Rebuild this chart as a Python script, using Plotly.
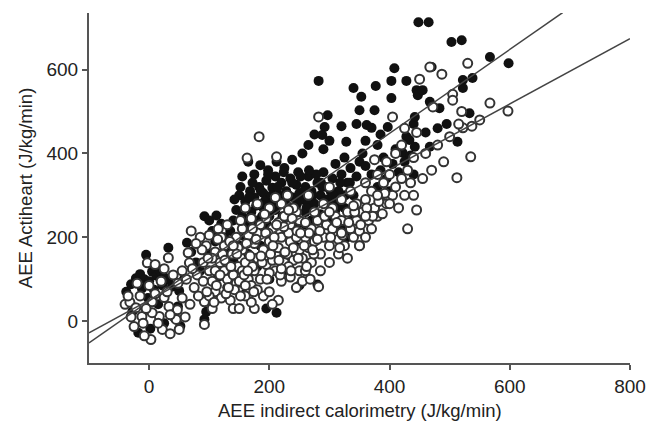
import plotly.graph_objects as go

# Filled circles (group 1)
filled_x = [-38,-30,-22,-15,-8,0,5,12,18,25,32,-5,32,-28,-12,8,38,50,48,52,2,-18,25,42,15,-2,58,22,
            63,70,92,100,112,120,105,125,135,140,128,110,95,92,130,158,115,140,85,100,78,
            150,160,168,175,183,190,195,200,205,210,215,220,228,235,240,245,250,170,180,190,200,210,220,230,240,245,155,162,175,185,198,212,225,238,248,160,175,195,210,230,150,165,185,205,225,240,212,195,200,230,250,180,155,165,
            255,260,265,270,275,280,285,290,295,300,305,310,315,320,325,330,335,340,345,350,260,270,285,300,310,325,340,255,265,275,290,300,282,297,292,288,320,328,340,353,350,345,260,280,300,320,280,250,330,
            355,360,362,370,375,377,380,385,390,397,403,403,408,410,417,422,428,433,428,440,442,442,445,447,455,448,360,370,385,395,405,415,425,435,380,400,440,
            465,503,520,467,470,483,522,538,522,533,513,467,567,598,480,495,460,
            145,152,158,166,172,178,186,192,198,204,214,218,224,232,238,244,252,258,264,272,278,288,294,302,312,318,326,334,142,188,206,226,246,266,286,306,170,196,222,262]
filled_y = [70,88,102,112,100,95,118,108,120,105,98,158,175,22,78,75,82,72,35,-12,-18,-28,-5,8,40,55,100,85,
            187,165,250,240,252,232,215,200,215,240,175,190,22,4,80,63,105,145,120,160,140,
            300,285,310,295,320,305,335,290,318,345,300,330,310,340,295,325,305,260,240,270,250,265,240,275,255,225,250,230,350,372,360,380,365,385,355,200,215,215,200,210,180,160,180,170,160,185,20,30,100,120,85,130,345,380,
            290,320,345,310,280,330,300,355,320,290,340,375,310,350,390,330,365,300,345,380,260,240,255,240,265,270,250,400,420,445,410,430,573,491,463,444,465,428,556,535,503,470,230,210,200,220,87,175,200,
            400,430,468,461,503,561,420,445,390,463,532,573,603,410,413,401,440,432,573,470,416,487,551,539,551,713,370,350,360,340,375,355,380,395,320,310,350,
            713,666,670,523,606,508,575,580,556,496,428,416,630,615,460,470,450,
            265,320,240,295,330,275,310,285,350,300,320,280,355,300,330,270,345,310,280,300,350,320,290,310,280,330,300,330,290,250,280,290,280,360,330,300,200,230,250,270]

# Open circles (group 2)
open_x = [-40,-32,-22,-25,3,22,50,45,47,33,17,5,-12,5,25,-3,32,65,67,-35,-15,10,30,-5,15,35,-10,55,0,20,40,-20,10,55,-30,60,35,-8,25,48,
          92,92,75,80,90,100,105,110,120,135,140,150,95,110,118,125,130,140,145,148,100,115,125,138,105,85,70,130,145,
          155,160,165,170,175,180,185,190,195,200,205,210,215,220,225,230,235,240,245,250,155,165,175,185,195,205,215,225,235,245,155,170,160,180,200,220,240,190,200,215,175,170,205,220,235,245,250,160,180,210,230,150,168,198,232,183,163,212,282,
          255,260,265,270,275,280,285,290,295,300,305,310,315,320,325,330,335,340,345,350,260,270,285,300,315,330,255,268,282,275,290,305,320,335,345,265,250,300,317,350,
          355,360,365,370,375,380,385,390,395,400,405,410,415,420,425,430,435,440,445,430,388,350,360,370,380,395,405,410,420,440,450,445,425,360,375,
          467,487,530,505,505,567,597,537,522,535,512,472,460,480,500,490,470,455,520,550,515,
          105,112,122,128,134,142,148,158,162,172,178,188,194,202,208,218,224,232,238,248,258,266,274,284,292,302,312,322,332,342,352,362,372,382,392,120,140,160,180,200,220,240,260,280,300,320,340,360,380,400,90,100,110,
          62,72,82,88,98,108,118,126,136,146,152,164,174,186,196,206,216,226,236,246,68,78,96,114,132,152,172,192,212,232,252,262,272]
open_y = [40,45,32,-13,-44,-20,-20,4,27,35,11,20,11,46,56,139,151,163,139,60,60,65,70,30,-5,-30,-5,55,85,95,110,90,135,120,10,10,15,-35,125,90,
          -8,46,80,110,140,120,95,70,55,50,30,30,180,165,140,120,100,110,90,130,205,220,180,160,30,200,215,230,200,
          120,140,100,85,120,150,100,170,135,190,145,120,175,200,140,160,190,145,200,170,170,205,185,230,245,220,235,250,230,260,220,245,270,280,270,280,270,60,70,50,30,45,40,95,105,80,120,60,210,295,300,95,155,210,210,440,389,392,487,
          150,200,175,220,190,240,160,200,230,180,220,250,195,240,180,260,220,200,240,180,120,140,120,140,160,150,95,100,82,260,280,270,290,310,280,300,240,320,175,215,
          260,290,240,310,270,250,300,330,280,350,300,320,270,340,300,360,330,300,265,220,256,180,200,220,350,380,487,400,420,390,577,450,460,330,385,
          606,589,615,541,527,520,501,465,461,392,342,511,400,420,440,380,360,340,500,480,470,
          150,85,160,65,190,75,175,110,185,130,195,140,210,160,200,110,225,130,245,150,180,210,160,215,250,200,235,205,235,260,230,270,250,285,305,200,180,85,75,115,125,175,235,195,260,210,275,250,300,280,95,60,120,
          100,125,60,170,150,45,110,145,130,160,60,120,70,155,100,180,145,165,120,215,40,185,70,195,80,240,220,255,230,265,210,130,170]

# Regression lines (slope, intercept)
line1_slope, line1_intercept = 1.0, 48
line2_slope, line2_intercept = 0.78, 50
line1_x = [-100, 688]
line2_x = [-100, 800]

x_ticks = [0, 200, 400, 600, 800]
y_ticks = [0, 200, 400, 600]

fig = go.Figure()
fig.add_trace(go.Scatter(x=filled_x, y=filled_y, mode="markers",
                         marker=dict(size=10, color="#111111", line=dict(width=0)),
                         showlegend=False, hoverinfo="x+y"))
fig.add_trace(go.Scatter(x=open_x, y=open_y, mode="markers",
                         marker=dict(size=9, color="white", line=dict(width=2, color="#333333")),
                         showlegend=False, hoverinfo="x+y"))
fig.add_trace(go.Scatter(x=line1_x, y=[line1_slope * v + line1_intercept for v in line1_x],
                         mode="lines", line=dict(color="#444444", width=1.5),
                         showlegend=False, hoverinfo="skip"))
fig.add_trace(go.Scatter(x=line2_x, y=[line2_slope * v + line2_intercept for v in line2_x],
                         mode="lines", line=dict(color="#444444", width=1.5),
                         showlegend=False, hoverinfo="skip"))

font_family = "Liberation Sans, Arial, sans-serif"
axis_common = dict(ticks="outside", ticklen=5, tickcolor="#555555", tickwidth=1.5,
                   showline=True, linecolor="#555555", linewidth=2, showgrid=False,
                   zeroline=False, automargin=False, tickfont=dict(size=19))
# page body has an 8px default margin, so the figure is 648x413 and offsets are compensated
fig.update_layout(
    width=648, height=413,
    margin=dict(l=81, r=26, t=5, b=58, autoexpand=False),
    paper_bgcolor="white", plot_bgcolor="white",
    font=dict(family=font_family, size=19, color="#222222"),
    xaxis=dict(range=[-100, 800], tickvals=x_ticks, **axis_common),
    yaxis=dict(range=[-100, 735], tickvals=y_ticks, **axis_common),
    annotations=[
        dict(text="AEE indirect calorimetry (J/kg/min)", xref="paper", yref="paper",
             x=0.5, y=-0.137, xanchor="center", yanchor="middle", showarrow=False,
             font=dict(size=18.5)),
        dict(text="AEE Actiheart (J/kg/min)", xref="paper", yref="paper",
             x=-0.118, y=0.5, xanchor="center", yanchor="middle", showarrow=False,
             textangle=-90, font=dict(size=18.5)),
    ],
)

fig.write_html("out.html")
